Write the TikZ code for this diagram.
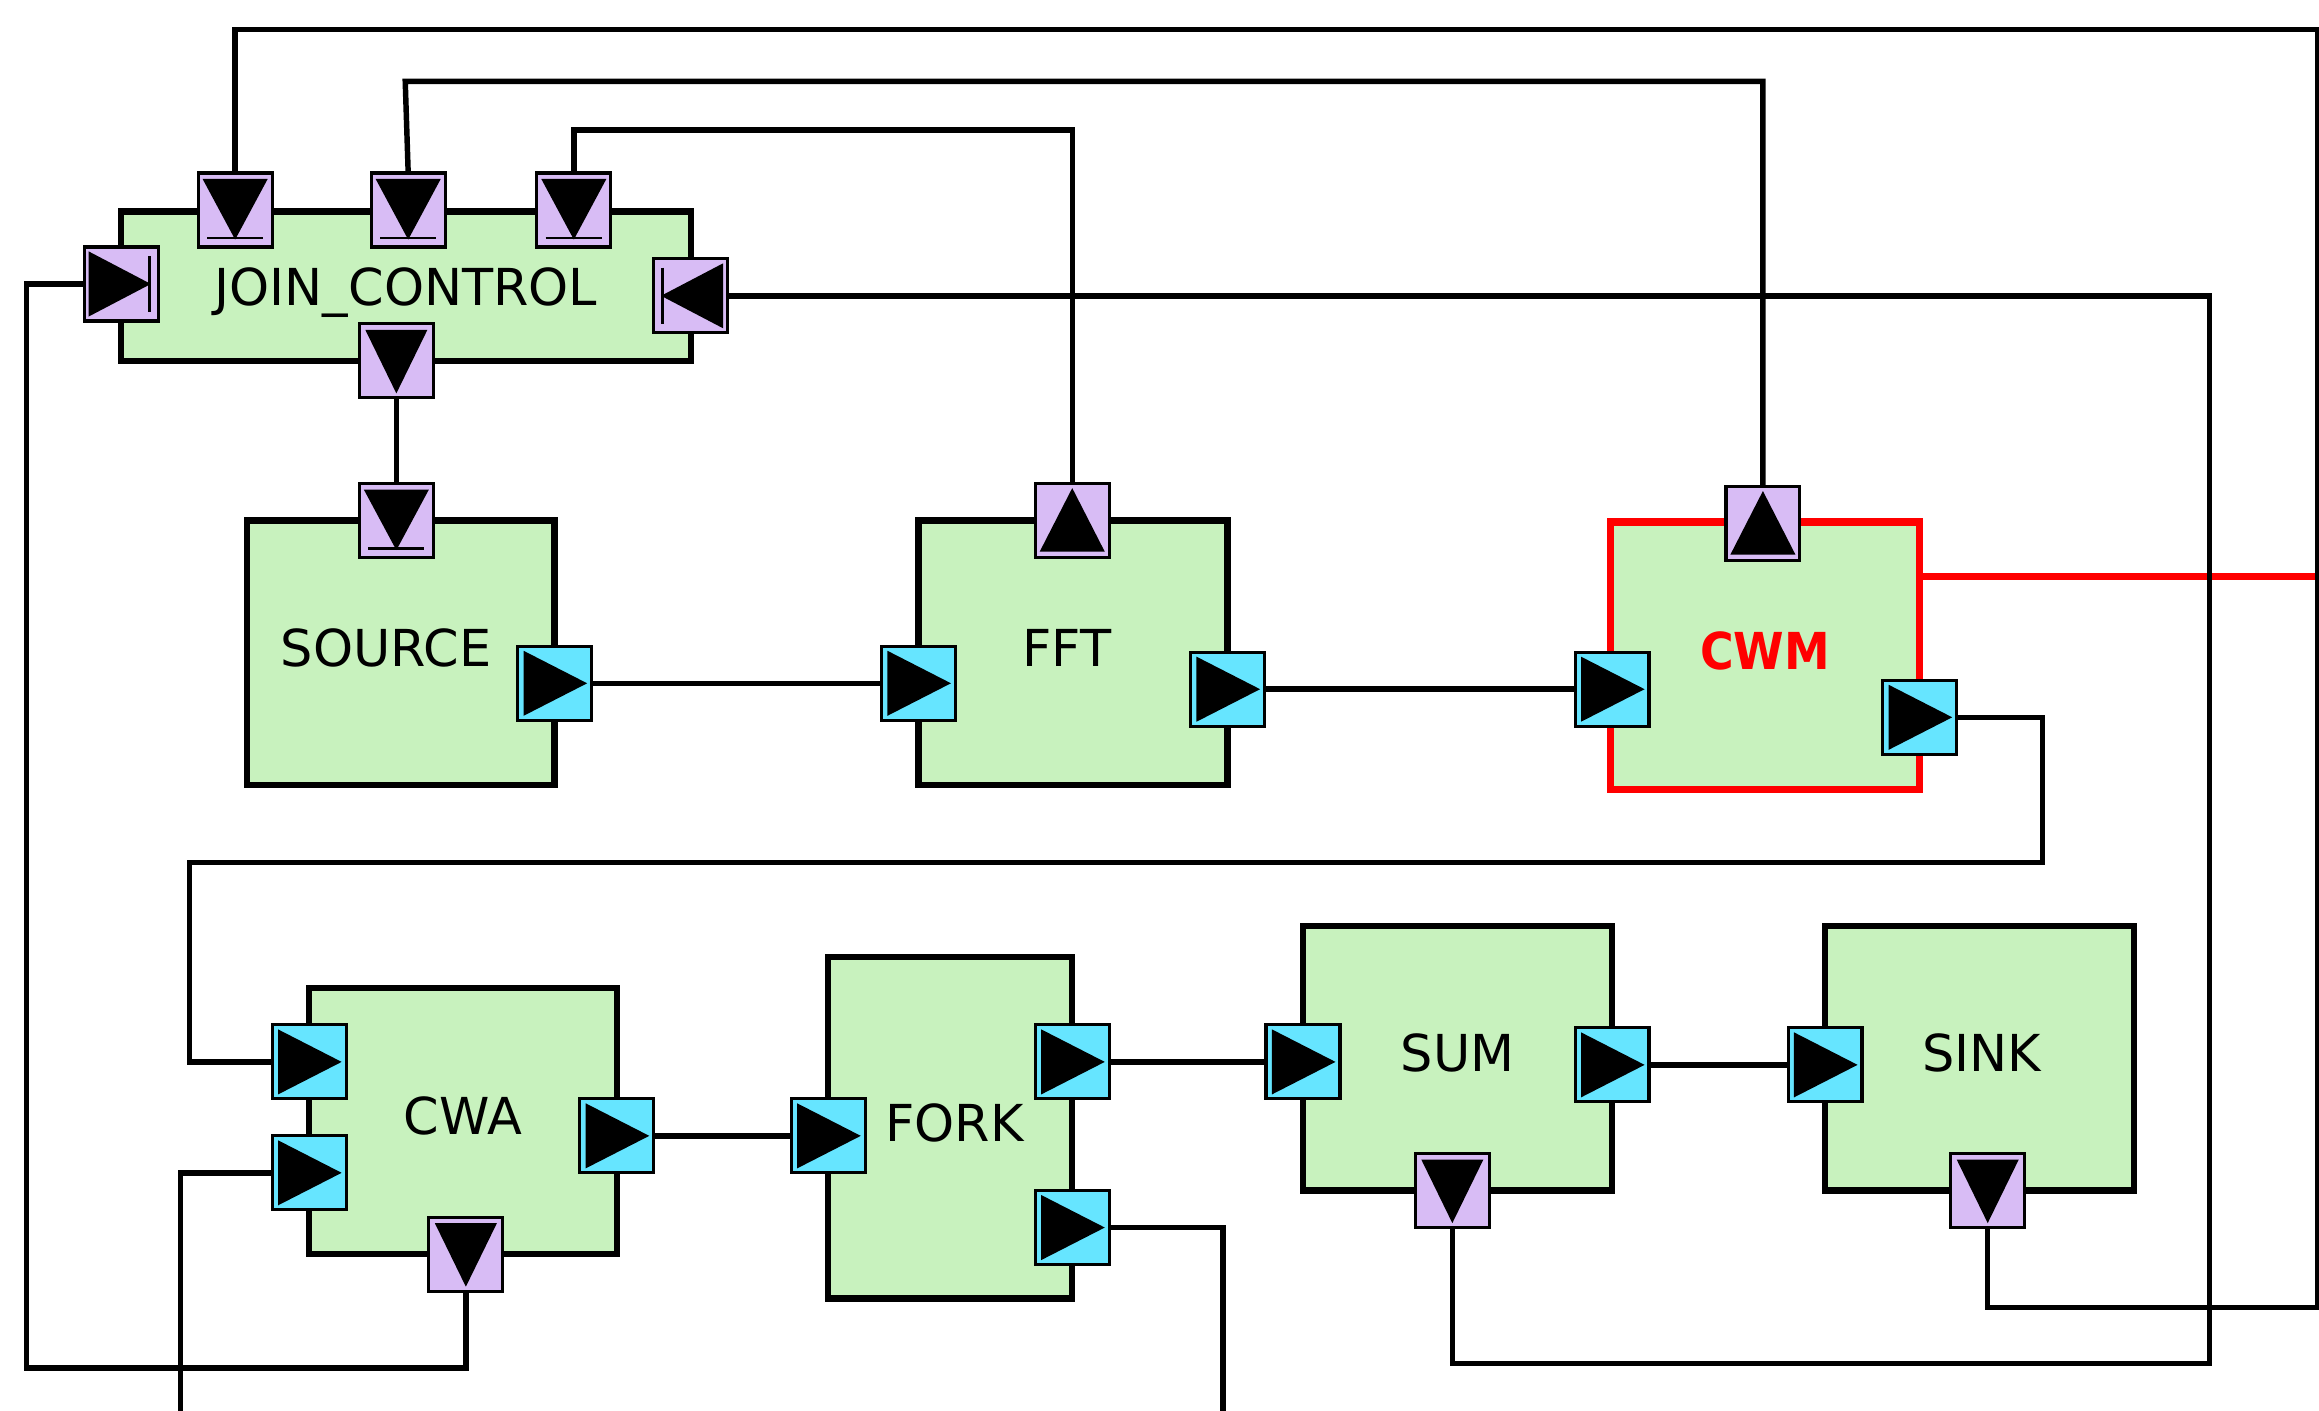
\documentclass[tikz,border=0pt]{standalone}
\usepackage{fontspec}
\setmainfont{DejaVu Sans}
\definecolor{blockfill}{HTML}{C8F2BE}
\definecolor{ctlfill}{HTML}{D8BCF5}
\definecolor{datafill}{HTML}{66E5FF}
\definecolor{alert}{HTML}{FF0000}

\begin{document}
\begin{tikzpicture}[
  x=0.1mm, y=-0.1mm,
  font=\fontsize{9.8}{12}\selectfont,
  block/.style   = {draw=black, line width=1.2pt, fill=blockfill, inner sep=0pt, outer sep=0pt,
                    text depth=0.7mm},
  hot/.style     = {block, draw=alert, line width=1.4pt, text=alert},
  port/.style    = {draw=black, line width=0.6pt, minimum size=5mm, inner sep=0pt, outer sep=0pt},
  dataR/.style   = {port, fill=datafill, path picture={
                      \coordinate (pc) at (path picture bounding box.center);
                      \fill[black] (pc) ++(-21,-22) -- ++(43,22) -- ++(-43,22) -- cycle;}},
  ctlD/.style    = {port, fill=ctlfill, path picture={
                      \coordinate (pc) at (path picture bounding box.center);
                      \fill[black] (pc) ++(-21,-21) -- ++(42,0) -- ++(-21,43) -- cycle;}},
  ctlDbar/.style = {port, fill=ctlfill, path picture={
                      \coordinate (pc) at (path picture bounding box.center);
                      \fill[black] (pc) ++(-22,-21) -- ++(44,0) -- ++(-22,41) -- cycle;
                      \draw[black, line width=0.5pt] (pc) ++(-19,19) -- ++(38,0);}},
  ctlU/.style    = {port, fill=ctlfill, path picture={
                      \coordinate (pc) at (path picture bounding box.center);
                      \fill[black] (pc) ++(0,-22) -- ++(22,43) -- ++(-44,0) -- cycle;}},
  ctlRbar/.style = {port, fill=ctlfill, path picture={
                      \coordinate (pc) at (path picture bounding box.center);
                      \fill[black] (pc) ++(-22,-22) -- ++(42,22) -- ++(-42,22) -- cycle;
                      \draw[black, line width=0.5pt] (pc) ++(19,-19) -- ++(0,38);}},
  ctlLbar/.style = {port, fill=ctlfill, path picture={
                      \coordinate (pc) at (path picture bounding box.center);
                      \fill[black] (pc) ++(22,-22) -- ++(-42,22) -- ++(42,22) -- cycle;
                      \draw[black, line width=0.5pt] (pc) ++(-19,-19) -- ++(0,38);}},
  wire/.style    = {draw=black, line width=1.05pt},
  hotwire/.style = {draw=alert, line width=1.3pt},
]
\useasboundingbox (0,0) rectangle (1568,954);

% ---------- free ends ----------
\coordinate (rtop) at (1567,20);
\coordinate (rbot) at (1567,884);
\coordinate (rmid) at (1575,390);
\coordinate (lbot) at (18,925);
\coordinate (mbot) at (1494,922);
\coordinate (bend) at (274,55);
\coordinate (loop) at (128,583);
\coordinate (out1) at (122,960);
\coordinate (out2) at (827,960);

% ---------- blocks ----------
\node[block, text depth=0mm, minimum width=38.5mm, minimum height=10.1mm] (jc) at (274.5,193.5) {JOIN\_CONTROL};
\node[block, minimum width=20.8mm, minimum height=17.9mm] (src) at (271,441.5) {\hspace*{-2mm}SOURCE};
\node[block, minimum width=20.9mm, minimum height=17.9mm] (fft) at (725.5,441.5) {FFT\hspace*{0.8mm}};
\node[hot,   minimum width=20.9mm, minimum height=18.1mm] (cwm) at (1193.5,443.5)
  {\scalebox{0.9}[1]{\bfseries CWM}};
\node[block, minimum width=20.8mm, minimum height=18mm]   (cwa)  at (313,758) {CWA};
\node[block, minimum width=16.5mm, minimum height=23.1mm] (fork) at (642.5,762.5) {\hspace*{0.6mm}FORK};
\node[block, minimum width=20.9mm, minimum height=17.9mm] (sum)  at (985.5,715.5) {SUM};
\node[block, minimum width=20.9mm, minimum height=17.9mm] (sink) at (1338.5,715.5) {\hspace*{0.3mm}SINK};

% ---------- ports ----------
\node[ctlDbar] (jc-c1) at (159,142) {};
\node[ctlDbar] (jc-c2) at (276,142) {};
\node[ctlDbar] (jc-c3) at (388,142) {};
\node[ctlRbar] (jc-l)  at (82,192) {};
\node[ctlLbar] (jc-r)  at (467,200) {};
\node[ctlD]    (jc-b)  at (268,244) {};

\node[ctlDbar] (src-c) at (268,352) {};
\node[dataR]   (src-o) at (375,462) {};

\node[ctlU]    (fft-c) at (725,352) {};
\node[dataR]   (fft-i) at (621,462) {};
\node[dataR]   (fft-o) at (830,466) {};

\node[ctlU]    (cwm-c) at (1192,354) {};
\node[dataR]   (cwm-i) at (1090,466) {};
\node[dataR]   (cwm-o) at (1298,485) {};

\node[dataR]   (cwa-i1) at (209,718) {};
\node[dataR]   (cwa-i2) at (209,793) {};
\node[dataR]   (cwa-o)  at (417,768) {};
\node[ctlD]    (cwa-s)  at (315,848) {};

\node[dataR]   (fork-i)  at (560,768) {};
\node[dataR]   (fork-o1) at (725,718) {};
\node[dataR]   (fork-o2) at (725,830) {};

\node[dataR]   (sum-i) at (881,718) {};
\node[dataR]   (sum-o) at (1090,720) {};
\node[ctlD]    (sum-s) at (982,805) {};

\node[dataR]   (sink-i) at (1234,720) {};
\node[ctlD]    (sink-s) at (1344,805) {};

% ---------- connectors ----------
\draw[hotwire] (cwm.east |- rmid) -- (rmid);

\draw[wire] (jc-c1.north) |- (rtop) -- (rbot) -| (sink-s.south);
\draw[wire] (jc-c2.north) -- (bend) -| (cwm-c.north);
\draw[wire] (jc-c3.north) -- ++(0,-29) -| (fft-c.north);
\draw[wire] (jc-r.east) -| (mbot) -| (sum-s.south);
\draw[wire] (jc-l.west) -| (lbot) -| (cwa-s.south);
\draw[wire] (jc-b.south) -- (src-c.north);
\draw[wire] (src-o.east) -- (fft-i.west);
\draw[wire] (fft-o.east) -- (cwm-i.west);
\draw[wire] (cwm-o.east) -- ++(58,0) |- (loop) |- (cwa-i1.west);
\draw[wire] (cwa-i2.west) -| (out1);
\draw[wire] (cwa-o.east) -- (fork-i.west);
\draw[wire] (fork-o1.east) -- (sum-i.west);
\draw[wire] (fork-o2.east) -| (out2);
\draw[wire] (sum-o.east) -- (sink-i.west);

\end{tikzpicture}
\end{document}
